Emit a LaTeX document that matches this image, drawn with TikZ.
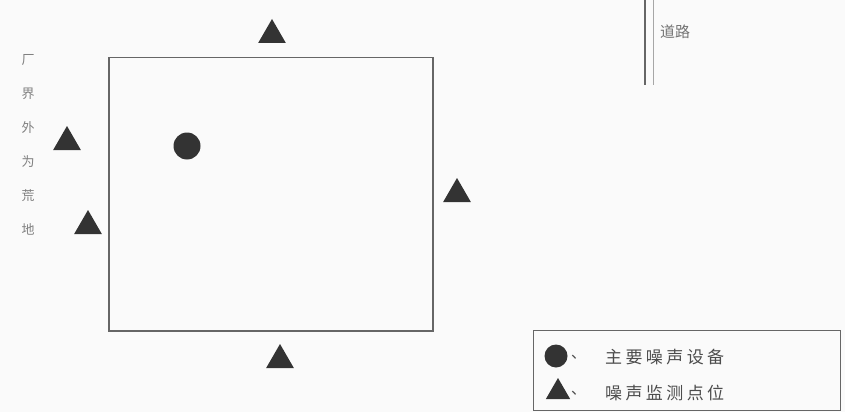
\documentclass[tikz,border=0pt]{standalone}
\usepackage{fontspec}
\newfontfamily\cjk{Noto Sans CJK SC}
\newfontfamily\cjkw[LetterSpace=20]{Noto Sans CJK SC}
\usetikzlibrary{shapes.geometric}
\begin{document}
\begin{tikzpicture}[x=1pt,y=-1pt,
  tri/.style={regular polygon,regular polygon sides=3,fill=black!80,draw=none,inner sep=0pt,minimum size=32pt},
  src/.style={circle,fill=black!80,draw=none,inner sep=0pt,minimum size=27pt},
  lbl/.style={font=\cjk\fontsize{15}{16}\selectfont,text=black!70,inner sep=0pt},
  leglbl/.style={font=\cjkw\fontsize{17}{18}\selectfont,text=black!70,inner sep=0pt},
  wall/.style={draw=black!60,line width=1.5pt}]
\fill[black!2] (0,0) rectangle (845,412);
\useasboundingbox (0,0) rectangle (845,412);
% site boundary
\node[wall,rectangle,minimum width=324pt,minimum height=273pt,anchor=north west,inner sep=0pt] (site) at (108,57) {};
% noise source
\node[src] (s1) at (187,146) {};
% monitoring points
\node[tri] (p1) at (272,35) {};
\node[tri] (p2) at (67,142) {};
\node[tri] (p3) at (88,226) {};
\node[tri] (p4) at (457,194) {};
\node[tri] (p5) at (280,360) {};
% left vertical text
\node[lbl,text=black!50,align=center,font=\cjk\fontsize{13}{34}\selectfont,anchor=north] (lt) at (28,54) {厂\\界\\外\\为\\荒\\地};
% road at top right
\coordinate (r1) at (645,0);
\coordinate (r2) at (645,85);
\coordinate (r3) at (653,0);
\coordinate (r4) at (653,85);
\draw[black!60,line width=1.5pt] (r1) -- (r2);
\draw[black!35,line width=0.8pt] (r3) -- (r4);
\node[lbl,anchor=west,text=black!55] (road) at (660,32) {道路};
% legend
\node[draw=black!60,line width=1.2pt,rectangle,minimum width=307pt,minimum height=80pt,anchor=north west,inner sep=0pt] (leg) at (533,330) {};
\node[src,minimum size=23pt] (ls) at (556,356) {};
\node[tri,minimum size=28pt] (lt2) at (558,392) {};
\node[lbl,anchor=west] (l0) at (571,357) {、};
\node[leglbl,anchor=west] (l1) at (605,357) {主要噪声设备};
\node[lbl,anchor=west] (l0b) at (571,393) {、};
\node[leglbl,anchor=west] (l2) at (605,393) {噪声监测点位};
\end{tikzpicture}
\end{document}
